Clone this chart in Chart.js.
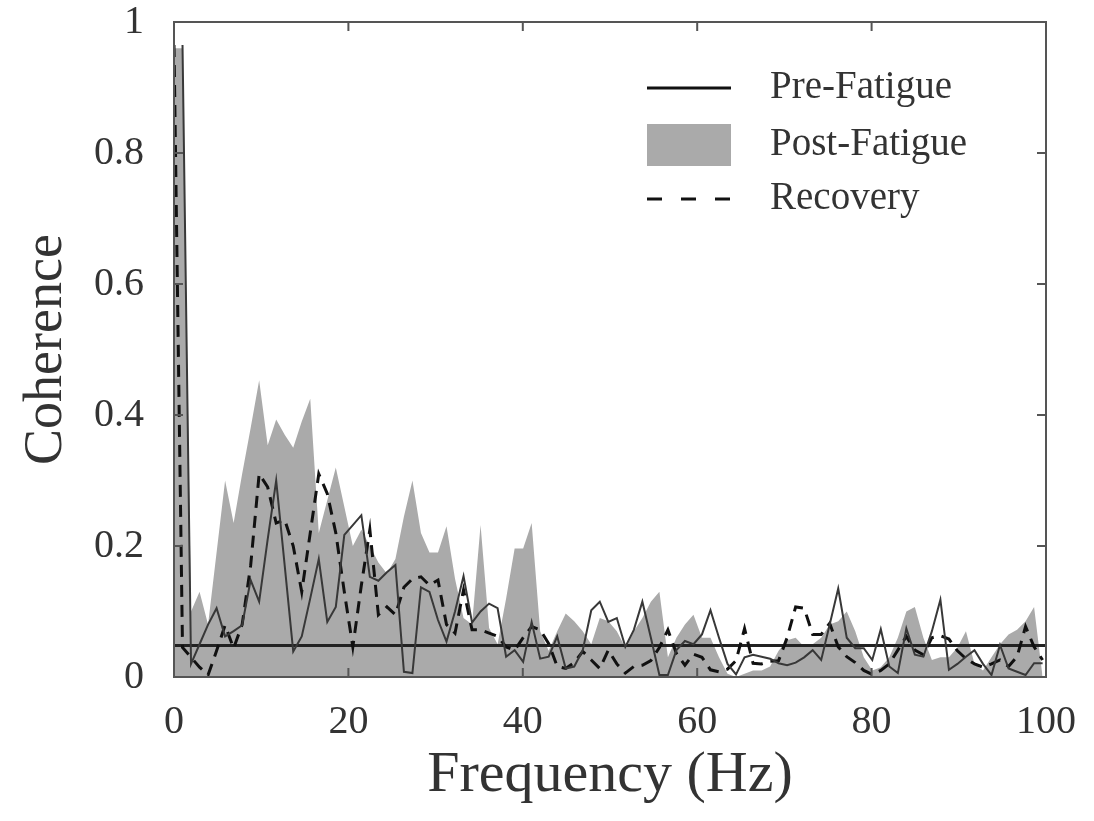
<!DOCTYPE html>
<html>
<head>
<meta charset="utf-8">
<script src="https://cdn.jsdelivr.net/npm/chart.js@4.4.1/dist/chart.umd.min.js"></script>
<style>
  body { margin: 0; background: #fff; }
  #wrap { width: 1094px; height: 821px; }
</style>
</head>
<body>
<div id="wrap"><canvas id="coherenceChart"></canvas></div>
<script>
// coherence per FFT bin (bin width 1000/1024 Hz), bins 0..102
const postCoh = [0.96, 0.96, 0.10, 0.13, 0.08, 0.19, 0.30, 0.235, 0.31, 0.38,
    0.453, 0.354, 0.393, 0.37, 0.35, 0.39, 0.425, 0.22, 0.27, 0.32,
    0.26, 0.20, 0.225, 0.20, 0.175, 0.158, 0.18, 0.245, 0.30, 0.22,
    0.19, 0.19, 0.23, 0.15, 0.09, 0.08, 0.232, 0.075, 0.05, 0.12,
    0.196, 0.196, 0.235, 0.07, 0.04, 0.07, 0.097, 0.085, 0.07, 0.05,
    0.09, 0.085, 0.07, 0.045, 0.07, 0.09, 0.115, 0.13, 0.03, 0.06,
    0.08, 0.095, 0.06, 0.06, 0.03, 0.005, 0.0, 0.005, 0.01, 0.01,
    0.016, 0.04, 0.056, 0.06, 0.046, 0.05, 0.06, 0.08, 0.085, 0.10,
    0.07, 0.03, 0.01, 0.015, 0.03, 0.06, 0.10, 0.107, 0.06, 0.026,
    0.03, 0.03, 0.045, 0.07, 0.02, 0.01, 0.03, 0.05, 0.065, 0.072,
    0.085, 0.107, 0.0];

const preCoh = [null, 0.965, 0.02, 0.05, 0.08, 0.105, 0.062, 0.07, 0.079, 0.148,
    0.115, 0.21, 0.30, 0.17, 0.039, 0.062, 0.12, 0.18, 0.084, 0.107,
    0.217, 0.232, 0.247, 0.153, 0.147, 0.16, 0.171, 0.008, 0.006, 0.137,
    0.13, 0.087, 0.054, 0.10, 0.154, 0.083, 0.10, 0.112, 0.105, 0.031,
    0.041, 0.023, 0.084, 0.028, 0.031, 0.062, 0.013, 0.016, 0.041, 0.102,
    0.115, 0.084, 0.09, 0.046, 0.072, 0.115, 0.06, 0.003, 0.003, 0.041,
    0.055, 0.05, 0.065, 0.102, 0.06, 0.02, 0.004, 0.03, 0.034, 0.031,
    0.028, 0.021, 0.018, 0.022, 0.03, 0.041, 0.026, 0.08, 0.135, 0.06,
    0.044, 0.044, 0.026, 0.073, 0.016, 0.006, 0.074, 0.034, 0.031, 0.07,
    0.118, 0.011, 0.02, 0.031, 0.041, 0.02, 0.003, 0.049, 0.013, 0.008,
    0.003, 0.021, 0.021];

const recCoh = [0.965, 0.045, 0.03, 0.015, 0.003, 0.04, 0.079, 0.044, 0.08, 0.17,
    0.31, 0.29, 0.235, 0.24, 0.20, 0.13, 0.22, 0.31, 0.28, 0.22,
    0.13, 0.046, 0.14, 0.225, 0.095, 0.107, 0.095, 0.137, 0.15, 0.153,
    0.14, 0.148, 0.08, 0.067, 0.133, 0.072, 0.072, 0.067, 0.062, 0.046,
    0.041, 0.06, 0.077, 0.072, 0.051, 0.016, 0.013, 0.022, 0.039, 0.026,
    0.013, 0.041, 0.02, 0.006, 0.016, 0.018, 0.025, 0.045, 0.072, 0.036,
    0.018, 0.035, 0.03, 0.011, 0.008, 0.012, 0.025, 0.074, 0.021, 0.02,
    0.024, 0.025, 0.06, 0.107, 0.105, 0.065, 0.065, 0.082, 0.046, 0.031,
    0.022, 0.01, 0.004, 0.01, 0.02, 0.041, 0.062, 0.041, 0.034, 0.06,
    0.063, 0.058, 0.04, 0.028, 0.02, 0.015, 0.02, 0.026, 0.016, 0.031,
    0.077, 0.046, 0.026];

const binHz = 1000 / 1024;
const freqHz = postCoh.map((_, k) => k * binHz);
const sigLevel = 0.048;
const xTicks = [0, 20, 40, 60, 80, 100];
const yTicks = [0, 0.2, 0.4, 0.6, 0.8, 1];
const seriesNames = ['Pre-Fatigue', 'Post-Fatigue', 'Recovery'];

const toPoints = arr => arr.map((v, i) => ({ x: freqHz[i], y: v }));
const serif = '"Liberation Serif", "Times New Roman", serif';
const textColor = '#333';

// box with inward tick marks on all four sides
const framePlugin = {
    id: 'frame',
    afterDatasetsDraw(chart) {
        const { ctx, chartArea: a, scales: { x, y } } = chart;
        ctx.save();
        ctx.strokeStyle = '#555';
        ctx.lineWidth = 2;
        ctx.strokeRect(a.left, a.top, a.right - a.left, a.bottom - a.top);
        ctx.beginPath();
        xTicks.forEach(v => {
            const px = x.getPixelForValue(v);
            ctx.moveTo(px, a.bottom); ctx.lineTo(px, a.bottom - 9);
            ctx.moveTo(px, a.top); ctx.lineTo(px, a.top + 9);
        });
        yTicks.forEach(v => {
            const py = y.getPixelForValue(v);
            ctx.moveTo(a.left, py); ctx.lineTo(a.left + 9, py);
            ctx.moveTo(a.right, py); ctx.lineTo(a.right - 9, py);
        });
        ctx.stroke();
        ctx.restore();
    }
};

// legend drawn inside the plot, top right
const legendPlugin = {
    id: 'insideLegend',
    afterDraw(chart) {
        const { ctx, chartArea: a } = chart;
        const x0 = a.right - 399, x1 = a.right - 315, tx = a.right - 276;
        const rows = [a.top + 66, a.top + 123, a.top + 177];
        ctx.save();
        ctx.strokeStyle = '#111';
        ctx.lineWidth = 3;
        ctx.beginPath(); ctx.moveTo(x0, rows[0]); ctx.lineTo(x1, rows[0]); ctx.stroke();
        ctx.fillStyle = '#aaaaaa';
        ctx.fillRect(x0, rows[1] - 21, x1 - x0, 42);
        ctx.setLineDash([15, 19]);
        ctx.beginPath(); ctx.moveTo(x0, rows[2]); ctx.lineTo(x1 + 2, rows[2]); ctx.stroke();
        ctx.setLineDash([]);
        ctx.fillStyle = textColor;
        ctx.font = '39px ' + serif;
        ctx.textBaseline = 'middle';
        ctx.textAlign = 'left';
        seriesNames.forEach((name, i) => ctx.fillText(name, tx, rows[i]));
        ctx.restore();
    }
};

// invisible tick marks give the label offset without widening the plot margins
const hiddenTicks = { display: true, drawOnChartArea: false, drawTicks: true, color: 'rgba(0,0,0,0)' };

const ctx = document.getElementById('coherenceChart').getContext('2d');
new Chart(ctx, {
    type: 'line',
    data: {
        datasets: [
            {
                label: seriesNames[0],
                data: toPoints(preCoh),
                borderColor: '#383838',
                borderWidth: 2,
                pointRadius: 0,
                fill: false,
                order: 1
            },
            {
                label: seriesNames[2],
                data: toPoints(recCoh),
                borderColor: '#111',
                borderWidth: 3,
                borderDash: [12, 8],
                pointRadius: 0,
                fill: false,
                order: 2
            },
            {
                label: 'significance',
                data: [{ x: xTicks[0], y: sigLevel }, { x: xTicks[xTicks.length - 1], y: sigLevel }],
                borderColor: '#222',
                borderWidth: 3,
                pointRadius: 0,
                fill: false,
                order: 3
            },
            {
                label: seriesNames[1],
                data: toPoints(postCoh),
                borderWidth: 0,
                borderColor: 'rgba(0,0,0,0)',
                backgroundColor: '#aaaaaa',
                pointRadius: 0,
                fill: 'origin',
                order: 4
            }
        ]
    },
    options: {
        responsive: true,
        maintainAspectRatio: false,
        animation: false,
        layout: { padding: { top: 22, right: 48, left: 0, bottom: 0 } },
        plugins: {
            legend: { display: false },
            tooltip: { enabled: false }
        },
        scales: {
            x: {
                type: 'linear',
                min: 0,
                max: 100,
                afterFit: s => { s.height = 144; },
                afterBuildTicks: s => { s.ticks = xTicks.map(v => ({ value: v })); },
                grid: { ...hiddenTicks, tickLength: 21 },
                border: { display: false },
                ticks: {
                    padding: 0,
                    color: textColor,
                    font: { family: serif, size: 40 },
                    maxRotation: 0,
                    callback: v => String(v)
                },
                title: {
                    display: true,
                    text: 'Frequency (Hz)',
                    color: textColor,
                    font: { family: serif, size: 58 },
                    padding: { top: 0, bottom: 10 }
                }
            },
            y: {
                min: 0,
                max: 1,
                afterFit: s => { s.width = 174; },
                afterBuildTicks: s => { s.ticks = yTicks.map(v => ({ value: v })); },
                grid: { ...hiddenTicks, tickLength: 30 },
                border: { display: false },
                ticks: {
                    padding: 0,
                    color: textColor,
                    font: { family: serif, size: 40, lineHeight: 1.1 },
                    callback: v => String(v)
                },
                title: {
                    display: true,
                    text: 'Coherence',
                    color: textColor,
                    font: { family: serif, size: 54 },
                    padding: { top: 14, bottom: 0 }
                }
            }
        }
    },
    plugins: [framePlugin, legendPlugin]
});
</script>
</body>
</html>
